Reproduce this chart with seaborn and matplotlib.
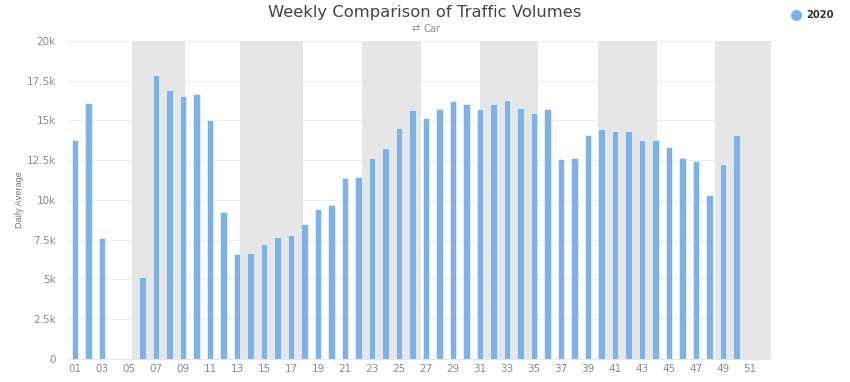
import matplotlib
matplotlib.use("Agg")
import matplotlib.pyplot as plt
from matplotlib.lines import Line2D
import numpy as np
import pandas as pd
import seaborn as sns

weeks = [str(w).zfill(2) for w in range(1, 53)]
volumes = [13780, 16090, 7590, np.nan, np.nan, 5130, 17840, 16890, 16560, 16670,
           15050, 9220, 6580, 6640, 7230, 7650, 7810, 8510, 9450, 9700,
           11360, 11420, 12640, 13270, 14550, 15640, 15160, 15700, 16210, 16040,
           15700, 16040, 16270, 15790, 15490, 15700, 12580, 12620, 14110, 14470,
           14360, 14360, 13790, 13750, 13310, 12640, 12470, 10330, 12280, 14110,
           np.nan, np.nan]

# even months, in bar positions
band_starts = [4.22, 12.2, 21.26, 30.0, 38.7, 47.4]
band_ends = [8.15, 16.85, 25.6, 34.3, 43.1, 51.5]

y_ticks = [0, 2500, 5000, 7500, 10000, 12500, 15000, 17500, 20000]
y_labels = ["0", "2.5k", "5k", "7.5k", "10k", "12.5k", "15k", "17.5k", "20k"]

bar_color = "#7cb2e8"
grey = "#8a8a8a"

sns.set_theme(style="white")
plt.rcParams['font.family'] = ['DejaVu Sans']

df = pd.DataFrame({"week": weeks, "volume": volumes})

fig, ax = plt.subplots(figsize=(8.5, 3.82), dpi=100)
fig.subplots_adjust(left=68.25 / 850, right=770.5 / 850, top=1 - 41 / 382, bottom=1 - 358.7 / 382)

ax.grid(axis="y", color="#eeeeee", lw=0.8, zorder=0)
ax.set_axisbelow(True)
for start, end in zip(band_starts, band_ends):
    ax.axvspan(start, end, color="#e6e6e6", lw=0, zorder=1)

sns.barplot(data=df, x="week", y="volume", color=bar_color, saturation=1, width=0.48,
            edgecolor="white", linewidth=0.4, ax=ax, zorder=2)

ax.set_xlim(-0.5, 51.5)
ax.set_ylim(0, 20000)
ax.set_yticks(y_ticks)
ax.set_yticklabels(y_labels)
ax.set_xticks(range(0, 52, 2))
ax.set_xticklabels(weeks[::2])
ax.tick_params(axis="x", length=3, width=0.6, color="#d8dde6", labelsize=7.5, labelcolor=grey, pad=1)
ax.tick_params(axis="y", length=0, labelsize=7.5, labelcolor=grey, pad=9)

ax.set_xlabel("")
ax.set_ylabel("Daily Average", fontsize=6.6, color="#777777",
              family=['Liberation Sans Narrow', 'Liberation Sans'])
ax.yaxis.set_label_coords((24 - 68.25) / 702.25, 0.5)

sns.despine(ax=ax, left=True, top=True, right=True)
ax.spines["bottom"].set_color("#e3e6ec")
ax.spines["bottom"].set_linewidth(0.8)

fig.text(425 / 850, 1 - 12 / 382, "Weekly Comparison of Traffic Volumes", ha="center", va="center",
         fontsize=11.8, color="#444444")
fig.text(423 / 850, 1 - 28.5 / 382, "Car", ha="left", va="center", fontsize=7, color=grey)
fig.text(416 / 850, 1 - 28.5 / 382, "\u21c4", ha="center", va="center", fontsize=7, color=grey)

handle = Line2D([], [], linestyle="none", marker="o", markersize=7, color=bar_color)
leg = fig.legend([handle], ["2020"], loc="center left", bbox_to_anchor=(785.5 / 850, 1 - 15.5 / 382),
                 frameon=False, handletextpad=0.1, borderpad=0, borderaxespad=0,
                 prop={"size": 7.2, "weight": "bold"})
leg.get_texts()[0].set_color("#333333")

plt.savefig("out.png", dpi=100)
